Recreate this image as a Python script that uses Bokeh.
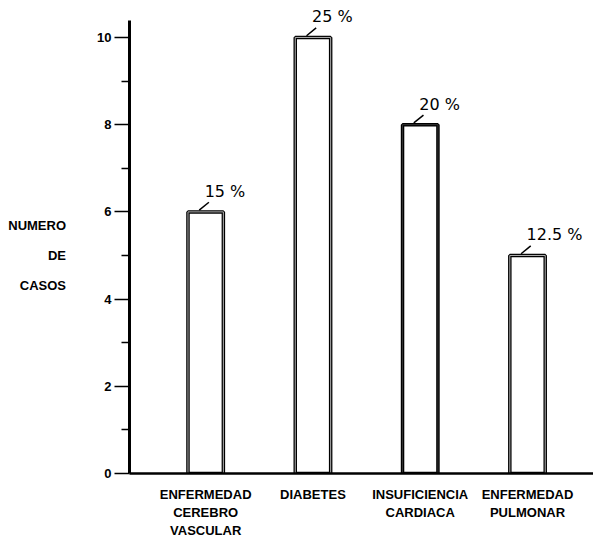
from bokeh.plotting import figure
from bokeh.models import Range1d, FixedTicker, ColumnDataSource
from bokeh.core.properties import value
from bokeh.embed import file_html
from bokeh.resources import INLINE

categories = ["ENFERMEDAD\nCEREBRO\nVASCULAR", "DIABETES", "INSUFICIENCIA\nCARDIACA", "ENFERMEDAD\nPULMONAR"]
casos = [6, 10, 8, 5]
porcentajes = ["15 %", "25 %", "20 %", "12.5 %"]
y_ticks = [0, 2, 4, 6, 8, 10]
y_minor = [1, 3, 5, 7, 9]
y_title = ["NUMERO", "DE", "CASOS"]

idx = list(range(len(categories)))
FONT = "Liberation Sans"

p = figure(width=593, height=541, output_backend="svg", toolbar_location=None,
           x_range=Range1d(-0.71, 3.615), y_range=Range1d(0, 10.71),
           min_border_left=129, min_border_right=0, min_border_top=6, min_border_bottom=68)
p.outline_line_color = None
p.grid.visible = False
p.background_fill_color = "white"

# bars: double outline look
src = ColumnDataSource(dict(x=idx, top=casos, lab=porcentajes,
                            inner=["#b0b0b0", "#b0b0b0", "#333333", "#b0b0b0"]))
p.vbar(x="x", top="top", bottom=0, width=0.33, source=src,
       fill_color="white", line_color="black", line_width=3.5)
p.vbar(x="x", top="top", bottom=0, width=0.33, source=src,
       fill_color=None, line_color="inner", line_width=1)

# percentage labels
p.text(x="x", y="top", text="lab", source=src, x_offset=-1, y_offset=-11,
       text_font=value("DejaVu Sans"), text_font_size="16px", text_align="left",
       text_baseline="bottom", text_color="black")
# small arrows from label to bar top
p.segment(x0=[i + 0.03 for i in idx], y0=[v + 0.22 for v in casos],
          x1=[i - 0.06 for i in idx], y1=[v + 0.04 for v in casos],
          line_color="black", line_width=1.5)

# x axis
xa = p.xaxis[0]
xa.ticker = FixedTicker(ticks=idx)
xa.major_label_overrides = {i: c for i, c in zip(idx, categories)}
xa.major_tick_line_color = None
xa.minor_tick_line_color = None
xa.axis_line_width = 2.5
xa.major_label_standoff = 7
xa.major_label_text_font = FONT
xa.major_label_text_font_style = "bold"
xa.major_label_text_font_size = "13px"
xa.major_label_text_line_height = 1.2
xa.major_label_text_color = "black"

# y axis
ya = p.yaxis[0]
ya.ticker = FixedTicker(ticks=y_ticks, minor_ticks=y_minor)
ya.bounds = (0, 10.4)
ya.axis_line_width = 3
ya.major_tick_out = 15
ya.major_tick_in = 0
ya.minor_tick_out = 8
ya.minor_tick_in = 0
ya.major_tick_line_width = 1.5
ya.minor_tick_line_width = 1.5
ya.major_label_standoff = 3
ya.major_label_text_font = FONT
ya.major_label_text_font_style = "bold"
ya.major_label_text_font_size = "13px"
ya.major_label_text_color = "black"

# y title: three horizontal lines
ya.axis_label = "\n\n" + "\n\n".join(y_title)
ya.axis_label_orientation = "horizontal"
ya.axis_label_text_align = "center"
ya.axis_label_text_font = FONT
ya.axis_label_text_font_style = "bold"
ya.axis_label_text_font_size = "13px"
ya.axis_label_text_line_height = 1.0
ya.axis_label_text_color = "black"
ya.axis_label_standoff = 28

open("out.html", "w").write(file_html(p, INLINE))
